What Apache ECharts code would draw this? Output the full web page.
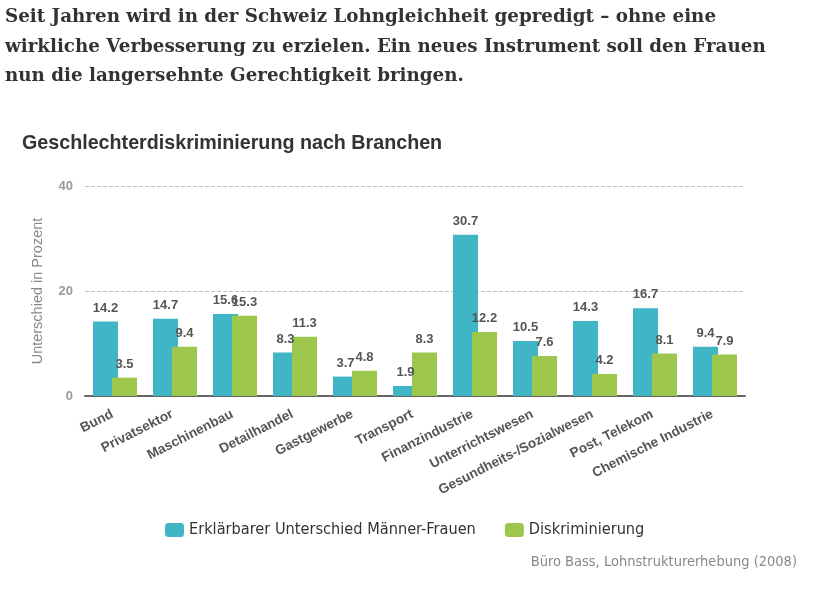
<!DOCTYPE html>
<html lang="de">
<head>
    <meta charset="UTF-8">
    <title>Geschlechterdiskriminierung nach Branchen</title>
    <script src="https://cdn.jsdelivr.net/npm/echarts@6/dist/echarts.min.js"></script>
    <style>
        html, body { margin: 0; padding: 0; background: #fff; }
        #chart { width: 839px; height: 589px; }
    </style>
</head>
<body>
<div id="chart"></div>
<script>
    // Daten
    var branchen = ['Bund', 'Privatsektor', 'Maschinenbau', 'Detailhandel', 'Gastgewerbe', 'Transport',
        'Finanzindustrie', 'Unterrichtswesen', 'Gesundheits-/Sozialwesen', 'Post, Telekom', 'Chemische Industrie'];
    var erklaerbar = [14.2, 14.7, 15.6, 8.3, 3.7, 1.9, 30.7, 10.5, 14.3, 16.7, 9.4];
    var diskriminierung = [3.5, 9.4, 15.3, 11.3, 4.8, 8.3, 12.2, 7.6, 4.2, 8.1, 7.9];
    var yTicks = [0, 20, 40];

    var intro = 'Seit Jahren wird in der Schweiz Lohngleichheit gepredigt – ohne eine\n' +
        'wirkliche Verbesserung zu erzielen. Ein neues Instrument soll den Frauen\n' +
        'nun die langersehnte Gerechtigkeit bringen.';

    var chart = echarts.init(document.getElementById('chart'));

    // Werte über den Balken
    var label = {
        show: true,
        position: 'top',
        distance: 7,
        color: '#555',
        fontSize: 13,
        fontWeight: 'bold',
        fontFamily: 'Liberation Sans, Arial, sans-serif',
        formatter: function (p) { return p.value.toFixed(1); }
    };

    var option = {
        animation: false,
        color: ['#3fb5c6', '#9cc64c'],
        title: [{
            text: intro,
            left: 0,
            top: -2,
            textStyle: {
                fontFamily: 'DejaVu Serif, serif',
                fontWeight: 'bold',
                fontSize: 18.3,
                lineHeight: 29.5,
                color: '#333'
            }
        }, {
            text: 'Geschlechterdiskriminierung nach Branchen',
            left: 22,
            top: 134,
            padding: 0,
            textStyle: {
                fontFamily: 'Liberation Sans, Arial, sans-serif',
                fontWeight: 'bold',
                fontSize: 19.7,
                color: '#333'
            }
        }, {
            text: 'Büro Bass, Lohnstrukturerhebung (2008)',
            right: 42,
            top: 555,
            padding: 0,
            textStyle: {
                fontFamily: 'Liberation Sans Narrow, DejaVu Sans Condensed, sans-serif',
                fontWeight: 'normal',
                fontSize: 14.5,
                color: '#888'
            }
        }],
        legend: {
            top: 517,
            left: 160,
            itemWidth: 19,
            itemHeight: 14,
            itemGap: 29,
            icon: 'roundRect',
            textStyle: {
                fontFamily: 'Liberation Sans Narrow, DejaVu Sans Condensed, sans-serif',
                fontSize: 16.2,
                color: '#333'
            }
        },
        grid: {
            left: 85,
            right: 94,
            top: 186,
            bottom: 193
        },
        xAxis: {
            type: 'category',
            data: branchen,
            axisLine: { lineStyle: { color: '#666', width: 2 } },
            axisTick: { show: false },
            axisLabel: {
                rotate: 27,
                interval: 0,
                margin: 16,
                padding: [0, 3, 0, 0],
                color: '#555',
                fontSize: 13.6,
                fontWeight: 'bold',
                fontFamily: 'Liberation Sans, Arial, sans-serif'
            }
        },
        yAxis: {
            type: 'value',
            min: yTicks[0],
            max: yTicks[yTicks.length - 1],
            interval: 20,
            name: 'Unterschied in Prozent',
            nameLocation: 'middle',
            nameGap: 40,
            nameTextStyle: {
                color: '#888',
                fontSize: 14.5,
                fontFamily: 'Liberation Sans, Arial, sans-serif'
            },
            axisLine: { show: false },
            axisTick: { show: false },
            axisLabel: {
                margin: 12,
                color: '#999',
                fontWeight: 'bold',
                fontSize: 13,
                fontFamily: 'Liberation Sans, Arial, sans-serif'
            },
            splitLine: { lineStyle: { color: '#c0c0c0', type: 'dashed' } }
        },
        series: [{
            name: 'Erklärbarer Unterschied Männer-Frauen',
            type: 'bar',
            data: erklaerbar,
            barWidth: 25,
            barGap: '-24%',
            label: label
        }, {
            name: 'Diskriminierung',
            type: 'bar',
            data: diskriminierung,
            barWidth: 25,
            label: label
        }]
    };
    chart.setOption(option);
</script>
</body>
</html>
